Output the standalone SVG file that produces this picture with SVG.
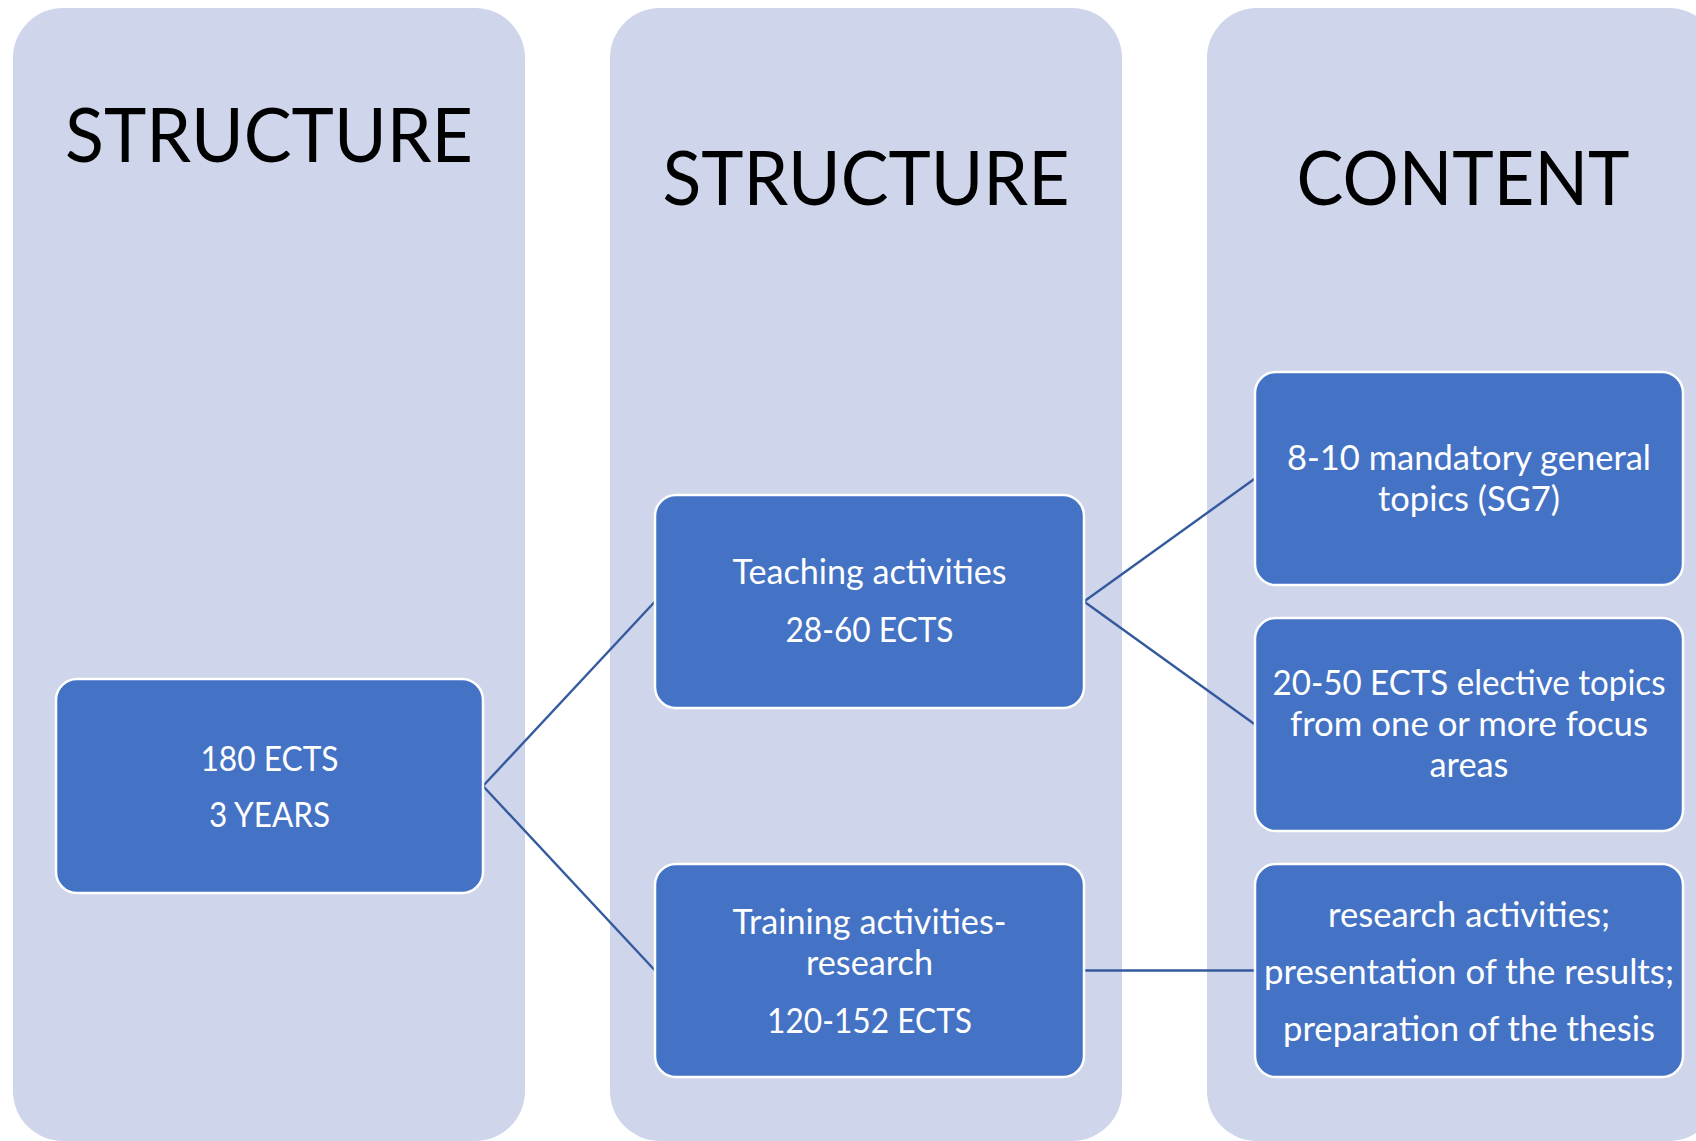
<svg xmlns="http://www.w3.org/2000/svg" width="1696" height="1141" viewBox="0 0 1696 1141">
<style>
.col{fill:#CFD5EA;}
.title{font-family:Lato,"Open Sans","Liberation Sans",sans-serif;font-size:75px;fill:#000;text-anchor:middle;}
.node{fill:#4472C4;stroke:#FFFFFF;stroke-width:2.5;}
.txt{font-family:Lato,"Open Sans","Liberation Sans",sans-serif;font-size:34px;fill:#FFFFFF;text-anchor:middle;}
.conn{stroke:#345A9E;stroke-width:2.4;fill:none;}
</style>
<rect width="1696" height="1141" fill="#FFFFFF"/>
<g id="col1">
<rect class="col" x="13" y="8" width="512" height="1133" rx="50" ry="50"/>
<text class="title" x="269" y="162" textLength="408" lengthAdjust="spacingAndGlyphs">STRUCTURE</text>
</g>
<g id="col2">
<rect class="col" x="610" y="8" width="512" height="1133" rx="50" ry="50"/>
<text class="title" x="866" y="205" textLength="407" lengthAdjust="spacingAndGlyphs">STRUCTURE</text>
</g>
<g id="col3">
<rect class="col" x="1207" y="8" width="512" height="1133" rx="50" ry="50"/>
<text class="title" x="1463" y="205" textLength="333" lengthAdjust="spacingAndGlyphs">CONTENT</text>
</g>
<g id="connectors">
<line class="conn" x1="483" y1="786" x2="655" y2="601.5"/>
<line class="conn" x1="483" y1="786" x2="655" y2="970.5"/>
<line class="conn" x1="1084" y1="601.5" x2="1255" y2="478.5"/>
<line class="conn" x1="1084" y1="601.5" x2="1255" y2="724.5"/>
<line class="conn" x1="1084" y1="970.5" x2="1255" y2="970.5"/>
</g>
<g id="nodeA">
<rect class="node" x="56" y="679" width="427" height="214" rx="21" ry="21"/>
<text class="txt" x="269.5" y="771" textLength="138" lengthAdjust="spacingAndGlyphs">180 ECTS</text>
<text class="txt" x="269.5" y="827" textLength="121" lengthAdjust="spacingAndGlyphs">3 YEARS</text>
</g>
<g id="nodeB">
<rect class="node" x="655" y="495" width="429" height="213" rx="21" ry="21"/>
<text class="txt" x="869.5" y="584" textLength="274" lengthAdjust="spacingAndGlyphs">Teaching activities</text>
<text class="txt" x="869.5" y="642" textLength="168" lengthAdjust="spacingAndGlyphs">28-60 ECTS</text>
</g>
<g id="nodeC">
<rect class="node" x="655" y="864" width="429" height="213" rx="21" ry="21"/>
<text class="txt" x="869.5" y="934" textLength="274" lengthAdjust="spacingAndGlyphs">Training activities-</text>
<text class="txt" x="869.5" y="975" textLength="127" lengthAdjust="spacingAndGlyphs">research</text>
<text class="txt" x="869.5" y="1033" textLength="205" lengthAdjust="spacingAndGlyphs">120-152 ECTS</text>
</g>
<g id="nodeD">
<rect class="node" x="1255" y="372" width="428" height="213" rx="21" ry="21"/>
<text class="txt" x="1469" y="470" textLength="364" lengthAdjust="spacingAndGlyphs">8-10 mandatory general</text>
<text class="txt" x="1469" y="511" textLength="182" lengthAdjust="spacingAndGlyphs">topics (SG7)</text>
</g>
<g id="nodeE">
<rect class="node" x="1255" y="618" width="428" height="213" rx="21" ry="21"/>
<text class="txt" x="1469" y="695" textLength="393" lengthAdjust="spacingAndGlyphs">20-50 ECTS elective topics</text>
<text class="txt" x="1469" y="736" textLength="358" lengthAdjust="spacingAndGlyphs">from one or more focus</text>
<text class="txt" x="1469" y="777" textLength="79" lengthAdjust="spacingAndGlyphs">areas</text>
</g>
<g id="nodeF">
<rect class="node" x="1255" y="864" width="428" height="213" rx="21" ry="21"/>
<text class="txt" x="1469" y="927" textLength="282" lengthAdjust="spacingAndGlyphs">research activities;</text>
<text class="txt" x="1469" y="984" textLength="410" lengthAdjust="spacingAndGlyphs">presentation of the results;</text>
<text class="txt" x="1469" y="1041" textLength="372" lengthAdjust="spacingAndGlyphs">preparation of the thesis</text>
</g>
</svg>
